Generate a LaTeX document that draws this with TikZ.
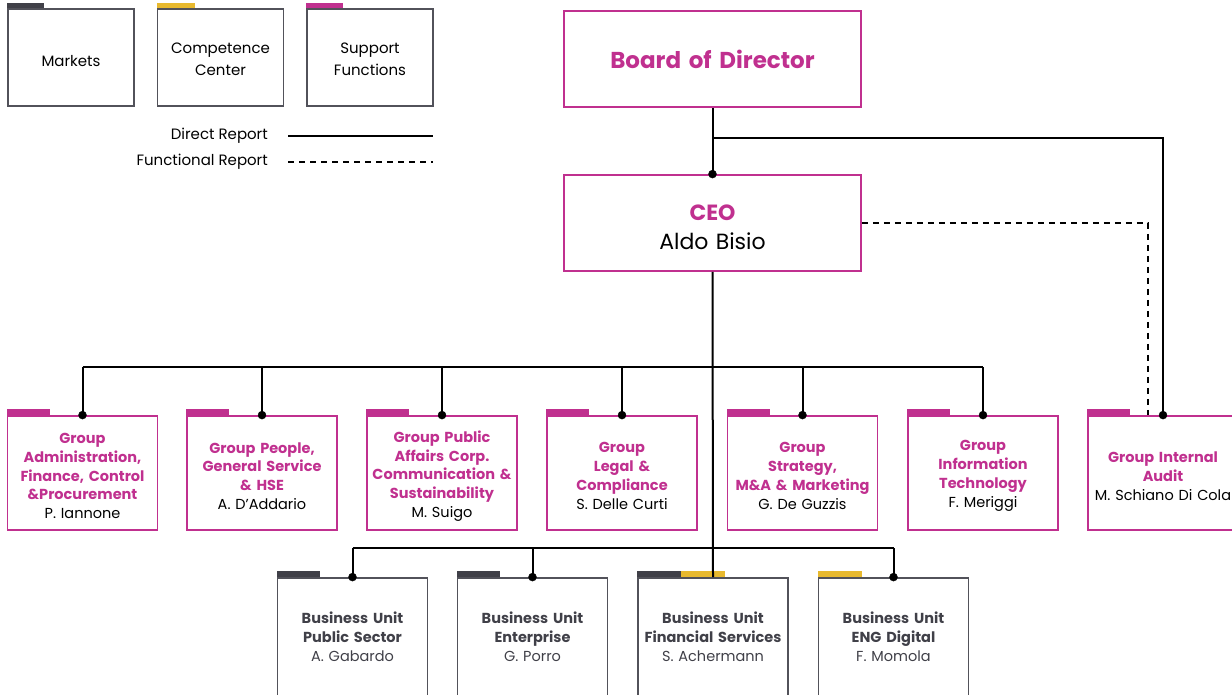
\documentclass[tikz,border=0pt]{standalone}
\usepackage{fontspec}
\setmainfont{Poppins}
\usepackage{tikz}
\usetikzlibrary{calc}
\definecolor{mag}{RGB}{192,48,143}
\definecolor{dkgray}{RGB}{64,64,72}
\definecolor{bdgray}{RGB}{82,82,90}
\definecolor{ylw}{RGB}{232,185,46}
\tikzset{
  box/.style={draw, line width=1.8, minimum width=150, minimum height=114,
    text width=146, align=center, inner sep=2, font=\fontsize{14.5}{18.8}\selectfont},
  grp/.style={box, draw=mag, text=black, execute at end node={\par\vspace*{-6pt}}},
  bu/.style={box, draw=bdgray, minimum height=118, text=dkgray},
  leg/.style={box, draw=bdgray, minimum width=126, text width=120, minimum height=97,
    text=black, font=\fontsize{15}{22}\selectfont, execute at end node={\par\vspace*{-3pt}}},
  legtxt/.style={font=\fontsize{15}{18}\selectfont, inner sep=0},
  top/.style={draw=mag, line width=1.8, minimum width=297, minimum height=96,
    text width=290, align=center},
  link/.style={line width=2, black},
  fnc/.style={link, dash pattern=on 6 off 5}
}
\newcommand{\ttl}[1]{{\color{mag}\bfseries #1}}
\begin{document}
\begin{tikzpicture}[x=1pt,y=-1pt]
        \useasboundingbox (0,0) rectangle (1232,694);
        \node[leg] (mkt) at (71,57.5) {\raisebox{-3pt}[\height][\depth]{Markets}};
        \node[leg] (cmp) at (220.5,57.5) {Competence\\Center};
        \node[leg] (sup) at (370,57.5) {Support\\Functions};
        \fill[dkgray] (mkt.north west) rectangle ++(37,-5);
        \fill[ylw] (cmp.north west) rectangle ++(38,-5);
        \fill[mag] (sup.north west) rectangle ++(37,-5);
        \node[legtxt, anchor=east] (dr) at (268,136) {Direct Report};
        \node[legtxt, anchor=east] (fr) at (268,162) {Functional Report};
        \draw[link, line width=1.3] ([xshift=20]dr.east) -- ++(145,0);
        \draw[fnc, line width=1.3] ([xshift=20]fr.east) -- ++(145,0);

        \node[top, font=\fontsize{23}{28}\selectfont\bfseries, text=mag] (board) at (712.5,59) {Board of Director};
        \node[top, font=\fontsize{22}{29}\selectfont, execute at end node={\par\vspace*{-8pt}}] (ceo) at (712.5,223) {\ttl{CEO}\\Aldo Bisio};

        \node[grp] (adm) at (82.5,473) {\ttl{Group\\Administration,\\Finance, Control\\\&Procurement}\\P. Iannone};
        \node[grp] (ppl) at (262,473) {\ttl{Group People,\\General Service\\\& HSE}\\A. D'Addario};
        \node[grp] (pub) at (442,473) {\ttl{Group Public\\Affairs Corp.\\Communication \&\\Sustainability}\\M. Suigo};
        \node[grp] (leg) at (622,473) {\ttl{Group\\Legal \&\\Compliance}\\S. Delle Curti};
        \node[grp] (str) at (802.5,473) {\ttl{Group\\Strategy,\\M\&A \& Marketing}\\G. De Guzzis};
        \node[grp] (it) at (983,473) {\ttl{Group\\Information\\Technology}\\F. Meriggi};
        \node[grp] (aud) at (1163,473) {\ttl{Group Internal\\Audit}\\M. Schiano Di Cola};
        \foreach \n in {adm,ppl,pub,leg,str,it,aud}
          \fill[mag] (\n.north west) rectangle ++(43,-6);

        \node[bu] (bu1) at (352.5,637) {\textbf{Business Unit}\\\textbf{Public Sector}\\A. Gabardo};
        \node[bu] (bu2) at (532.5,637) {\textbf{Business Unit}\\\textbf{Enterprise}\\G. Porro};
        \node[bu] (bu3) at (713,637) {\textbf{Business Unit}\\\textbf{Financial Services}\\S. Achermann};
        \node[bu] (bu4) at (893.5,637) {\textbf{Business Unit}\\\textbf{ENG Digital}\\F. Momola};
        \fill[dkgray] (bu1.north west) rectangle ++(43,-6);
        \fill[dkgray] (bu2.north west) rectangle ++(43,-6);
        \fill[dkgray] (bu3.north west) rectangle ++(44,-6);
        \fill[ylw] ([xshift=44]bu3.north west) rectangle ++(44,-6);
        \fill[ylw] (bu4.north west) rectangle ++(44,-6);

        \coordinate (bsplit) at (712.5,138);
        \coordinate (gbus) at (712.5,367);
        \coordinate (bbus) at (712.5,548);
        \draw[link] (board.south) -- (ceo.north);
        \filldraw (ceo.north) circle (4);
        \draw[link] (bsplit) -| (aud.north);
        \filldraw (aud.north) circle (4);
        \draw[fnc] (ceo.east) -| ([xshift=-15]aud.north);
        \draw[link] (ceo.south) -- (bu3.north);
        \draw[link] (adm.north |- gbus) -- (it.north |- gbus);
        \foreach \n in {adm,ppl,pub,leg,str,it} {
          \draw[link] (\n.north |- gbus) -- (\n.north);
          \filldraw (\n.north) circle (4);
        }
        \draw[link] (bu1.north |- bbus) -- (bu4.north |- bbus);
        \foreach \n in {bu1,bu2,bu4} {
          \draw[link] (\n.north |- bbus) -- (\n.north);
          \filldraw (\n.north) circle (4);
        }
      \end{tikzpicture}
\end{document}
